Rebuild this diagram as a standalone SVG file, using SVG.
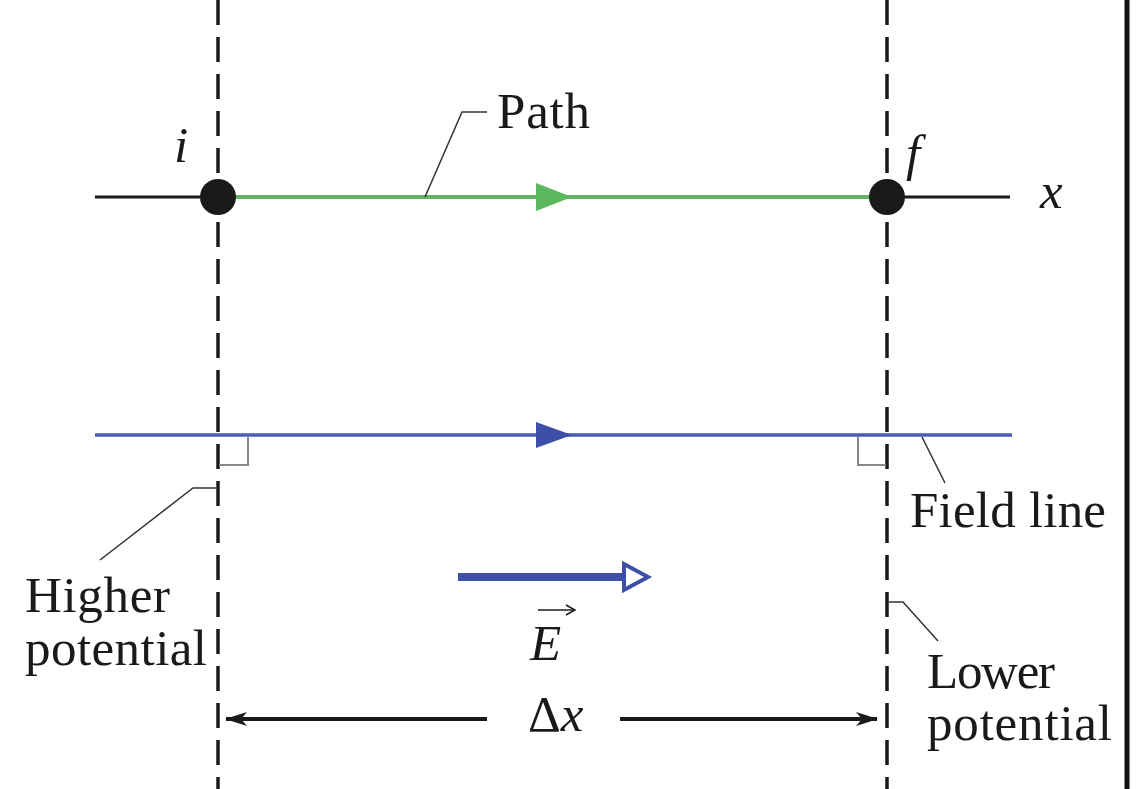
<svg xmlns="http://www.w3.org/2000/svg" width="1138" height="789" viewBox="0 0 1138 789">
<style>
.t{font-family:"Liberation Serif","DejaVu Serif",serif;font-size:51px;fill:#1a1a1a}
.it{font-style:italic}
.dash{stroke:#1a1a1a;stroke-width:3.5;stroke-dasharray:25 12;fill:none}
.lead{stroke:#333;stroke-width:1.5;fill:none}
.ra{stroke:#888;stroke-width:2;fill:none}
</style>
<defs>
<marker id="ah" viewBox="0 0 22 14" refX="21" refY="7" markerWidth="22" markerHeight="14" markerUnits="userSpaceOnUse" orient="auto-start-reverse">
<path d="M0,0 L22,7 L0,14 L6,7 Z" fill="#1a1a1a"/>
</marker>
</defs>
<rect width="1138" height="789" fill="#fff"/>
<line x1="1127" y1="0" x2="1127" y2="789" stroke="#111" stroke-width="5"/>
<g id="connectors">
<line x1="95" y1="197" x2="1010" y2="197" stroke="#1a1a1a" stroke-width="3"/>
<line x1="218" y1="197" x2="887" y2="197" stroke="#5cb85c" stroke-width="3.5"/>
<polygon points="536,183 572,197 536,211" fill="#5cb85c"/>
<line x1="95" y1="435" x2="1012" y2="435" stroke="#4a5bb0" stroke-width="3.5"/>
<polygon points="536,422 572,435 536,448" fill="#3e4fa8"/>
<line class="dash" x1="218" y1="0" x2="218" y2="789"/>
<line class="dash" x1="887" y1="0" x2="887" y2="789"/>
<polyline class="ra" points="219,465 248,465 248,437"/>
<polyline class="ra" points="858,437 858,465 886,465"/>
<polyline class="lead" points="425,197 462,112 487,112"/>
<polyline class="lead" points="922,437 945,483"/>
<polyline class="lead" points="100,560 193,488 216,488"/>
<polyline class="lead" points="889,602 903,602 938,641"/>
<line x1="458" y1="577" x2="624" y2="577" stroke="#3e4fa8" stroke-width="8"/>
<polygon points="624,564 648,577 624,590" fill="#fff" stroke="#3e4fa8" stroke-width="4"/>
<line x1="487" y1="719" x2="226" y2="719" stroke="#1a1a1a" stroke-width="4" marker-end="url(#ah)"/>
<line x1="620" y1="719" x2="877" y2="719" stroke="#1a1a1a" stroke-width="4" marker-end="url(#ah)"/>
<line x1="538" y1="610" x2="574" y2="610" stroke="#1a1a1a" stroke-width="1.5"/>
<path d="M566,605 L575,610 L566,615" fill="none" stroke="#1a1a1a" stroke-width="1.5"/>
</g>
<g id="node-i">
<circle cx="218" cy="197" r="18" fill="#1a1a1a"/>
<text class="t it" x="174" y="162">i</text>
</g>
<g id="node-f">
<circle cx="887" cy="197" r="18" fill="#1a1a1a"/>
<text class="t it" x="906" y="170">f</text>
</g>
<g id="label-x"><text class="t it" x="1040" y="208">x</text></g>
<g id="label-path"><text class="t" x="497" y="128" textLength="93">Path</text></g>
<g id="label-field"><text class="t" x="910" y="527" textLength="196">Field line</text></g>
<g id="label-higher">
<text class="t" x="25" y="612" textLength="145">Higher</text>
<text class="t" x="25" y="665" textLength="182">potential</text>
</g>
<g id="label-lower">
<text class="t" x="927" y="688" textLength="128">Lower</text>
<text class="t" x="927" y="740" textLength="185">potential</text>
</g>
<g id="label-E"><text class="t it" x="530" y="660">E</text></g>
<g id="label-dx"><text class="t" x="528" y="731">Δ<tspan class="it">x</tspan></text></g>
</svg>
